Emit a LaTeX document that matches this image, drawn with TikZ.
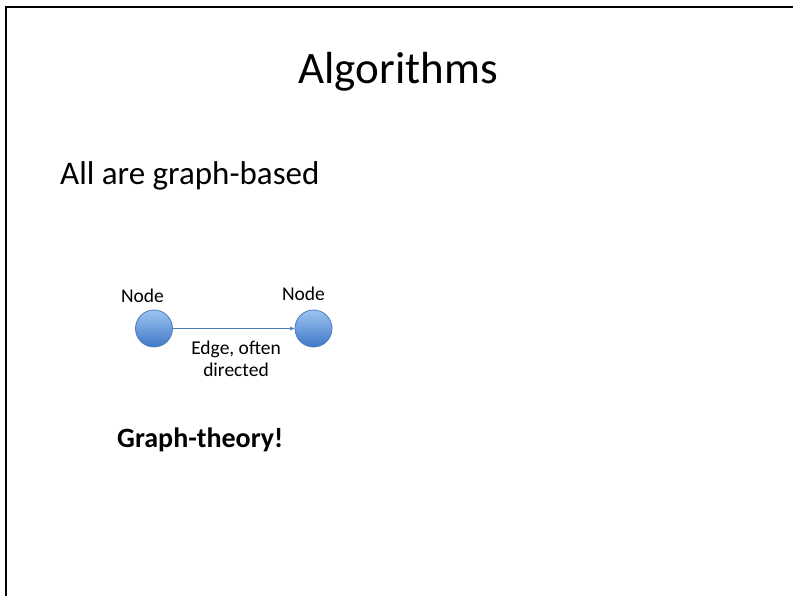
\documentclass[tikz,border=0pt]{standalone}
\usepackage{fontspec}
\setmainfont{Carlito}
\usetikzlibrary{arrows.meta}
\definecolor{nodetop}{HTML}{9DC3F0}
\definecolor{nodebot}{HTML}{3F78C8}
\definecolor{nodeline}{HTML}{4A7EBB}
\begin{document}
\begin{tikzpicture}[x=1pt,y=-1pt,
  vertex/.style={circle,minimum size=37pt,inner sep=0pt,draw=nodeline,line width=0.8pt,
    top color=nodetop,bottom color=nodebot},
  smalllabel/.style={font=\fontsize{19.5}{22}\selectfont,align=center,inner sep=0pt},
  frame/.style={line width=2pt,draw=black}]
\useasboundingbox (0,0) rectangle (793,596);
% slide frame (top and left edges)
\draw[frame] (6,596) -- (6,7) -- (793,7);
% title and body text
\node[font=\fontsize{45}{54}\selectfont,anchor=base] (title) at (398,84) {Algorithms};
\node[font=\fontsize{33}{40}\selectfont,anchor=base west,inner sep=0pt] (intro) at (60,185) {All are graph-based};
% the two vertices and the edge between them
\node[vertex] (u) at (154,328.5) {};
\node[vertex] (v) at (313.5,328.5) {};
\node[smalllabel,anchor=base] (ulab) at (142.5,302) {Node};
\node[smalllabel,anchor=base] (vlab) at (303.5,301) {Node};
\draw[nodeline,line width=1pt,-{Stealth[length=5pt,width=4pt]}] (u) -- (v);
\node[smalllabel,anchor=north] (elab) at (236,341) {Edge, often\\directed};
% closing remark
\node[font=\fontsize{28}{34}\selectfont\bfseries,anchor=base west,inner sep=0pt] (remark) at (117,447) {Graph-theory!};
\end{tikzpicture}
\end{document}
